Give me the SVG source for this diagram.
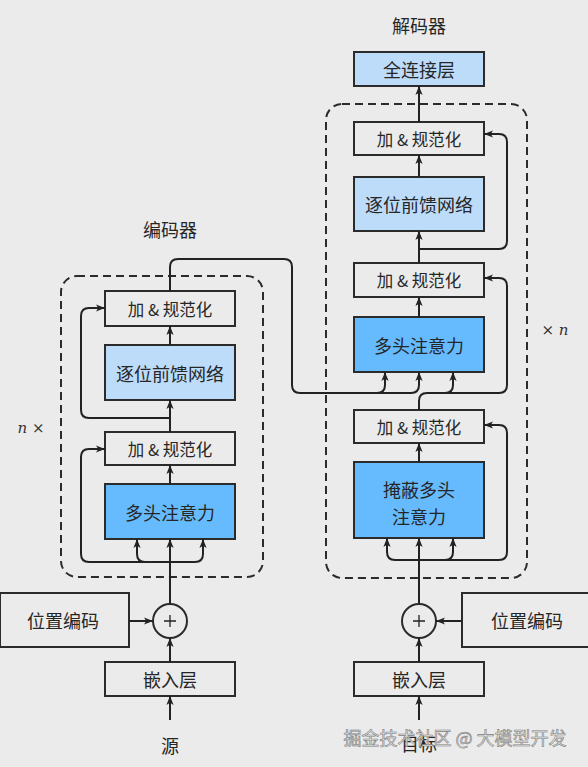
<svg xmlns="http://www.w3.org/2000/svg" width="588" height="767" viewBox="0 0 588 767">
<style>
  .bg{fill:#ebebeb}
  .box{stroke:#2b2b2b;stroke-width:2}
  .gray{fill:#ebebeb}
  .light{fill:#bddcfa}
  .blue{fill:#66bbff}
  .dash{fill:none;stroke:#2b2b2b;stroke-width:2;stroke-dasharray:8 5}
  .t{font-family:"Noto Sans CJK SC","Noto Sans",sans-serif;fill:#262626;text-anchor:middle;dominant-baseline:central}
  .s16{font-size:16.5px}
  .s17{font-size:18px}
  .it{font-family:"DejaVu Serif","Liberation Serif",serif;font-size:15px;fill:#333;text-anchor:middle;dominant-baseline:central}
  .c{fill:none;stroke:#222;stroke-width:2;stroke-linejoin:round}
  .a{marker-end:url(#ah)}
  .wm{font-family:"Noto Sans CJK SC",sans-serif;font-size:18px;fill:#e2e2e2;stroke:#808080;stroke-width:0.6;text-anchor:middle;dominant-baseline:central}
</style>
<defs>
  <marker id="ah" viewBox="0 0 10 8" refX="10" refY="4" markerWidth="9" markerHeight="7.5" markerUnits="userSpaceOnUse" orient="auto">
    <path d="M0,0 L10,4 L0,8 L2.5,4 z" fill="#222"/>
  </marker>
</defs>
<rect class="bg" x="0" y="0" width="588" height="767"/>

<!-- titles and labels -->
<text class="t s17" x="170" y="229">编码器</text>
<text class="t s17" x="419" y="25">解码器</text>
<text class="it" x="31" y="428"><tspan font-style="italic">n</tspan> ×</text>
<text class="it" x="555" y="330">× <tspan font-style="italic">n</tspan></text>

<!-- dashed groups -->
<g id="encoder-block">
  <rect class="dash" x="61" y="276" width="202" height="301" rx="16"/>
</g>
<g id="decoder-block">
  <rect class="dash" x="326" y="104" width="201" height="474" rx="16"/>
</g>

<!-- encoder nodes -->
<g id="enc-addnorm2"><rect class="box gray" x="105" y="291" width="130" height="35"/><text class="t s16" x="170" y="308.5">加 &amp; 规范化</text></g>
<g id="enc-ffn"><rect class="box light" x="105" y="345" width="130" height="55"/><text class="t s17" x="170" y="372.5">逐位前馈网络</text></g>
<g id="enc-addnorm1"><rect class="box gray" x="105" y="432" width="130" height="33"/><text class="t s16" x="170" y="448.5">加 &amp; 规范化</text></g>
<g id="enc-attn"><rect class="box blue" x="105" y="484" width="130" height="55"/><text class="t s17" x="170" y="511.5">多头注意力</text></g>
<g id="enc-posenc"><rect class="box gray" x="0" y="593" width="129" height="54"/><text class="t s17" x="63" y="620">位置编码</text></g>
<g id="enc-add"><circle class="box gray" cx="170" cy="621" r="17"/><path d="M164,621 H176 M170,615 V627" stroke="#222" stroke-width="1.3"/></g>
<g id="enc-embed"><rect class="box gray" x="105" y="662" width="130" height="34"/><text class="t s17" x="170" y="679">嵌入层</text></g>
<g id="enc-src"><text class="t s17" x="170" y="745">源</text></g>

<!-- decoder nodes -->
<g id="dec-fc"><rect class="box light" x="354" y="52" width="130" height="34"/><text class="t s17" x="419" y="69">全连接层</text></g>
<g id="dec-addnorm3"><rect class="box gray" x="354" y="122" width="130" height="33"/><text class="t s16" x="419" y="138.5">加 &amp; 规范化</text></g>
<g id="dec-ffn"><rect class="box light" x="354" y="177" width="130" height="54"/><text class="t s17" x="419" y="204">逐位前馈网络</text></g>
<g id="dec-addnorm2"><rect class="box gray" x="354" y="263" width="130" height="34"/><text class="t s16" x="419" y="280">加 &amp; 规范化</text></g>
<g id="dec-attn"><rect class="box blue" x="354" y="317" width="130" height="55"/><text class="t s17" x="419" y="344.5">多头注意力</text></g>
<g id="dec-addnorm1"><rect class="box gray" x="354" y="410" width="130" height="33"/><text class="t s16" x="419" y="426.5">加 &amp; 规范化</text></g>
<g id="dec-mattn"><rect class="box blue" x="354" y="462" width="130" height="76"/><text class="t s17" x="419" y="489">掩蔽多头</text><text class="t s17" x="419" y="516">注意力</text></g>
<g id="dec-posenc"><rect class="box gray" x="462" y="593" width="130" height="54"/><text class="t s17" x="527" y="620">位置编码</text></g>
<g id="dec-add"><circle class="box gray" cx="419" cy="621" r="17"/><path d="M413,621 H425 M419,615 V627" stroke="#222" stroke-width="1.3"/></g>
<g id="dec-embed"><rect class="box gray" x="354" y="662" width="130" height="34"/><text class="t s17" x="419" y="679">嵌入层</text></g>
<g id="dec-tgt"><text class="t s17" x="419" y="743">目标</text></g>

<!-- connectors -->
<g id="connectors">
  <!-- encoder -->
  <path class="c a" d="M170,720 V696"/>
  <path class="c a" d="M170,662 V638"/>
  <path class="c a" d="M129,621 H153"/>
  <path class="c a" d="M170,604 V539"/>
  <path class="c a" d="M170,562 H145 Q137,562 137,554 V539"/>
  <path class="c a" d="M170,562 H195 Q203,562 203,554 V539"/>
  <path class="c a" d="M145,562 H89 Q81,562 81,554 V457 Q81,449 89,449 H105"/>
  <path class="c a" d="M170,484 V465"/>
  <path class="c a" d="M170,432 V400"/>
  <path class="c a" d="M170,418 H89 Q81,418 81,410 V316 Q81,308 89,308 H105"/>
  <path class="c a" d="M170,345 V326"/>
  <!-- encoder to decoder -->
  <path class="c a" d="M170,291 V267 Q170,259 178,259 H284 Q292,259 292,267 V385 Q292,393 300,393 H377 Q385,393 385,385 V372"/>
  <path class="c a" d="M377,393 H411 Q419,393 419,385 V372"/>
  <!-- decoder -->
  <path class="c a" d="M419,720 V696"/>
  <path class="c a" d="M419,662 V638"/>
  <path class="c a" d="M462,621 H436"/>
  <path class="c a" d="M419,604 V538"/>
  <path class="c a" d="M419,560 H395 Q387,560 387,552 V538"/>
  <path class="c a" d="M419,560 H445 Q453,560 453,552 V538"/>
  <path class="c a" d="M445,560 H499 Q507,560 507,552 V433 Q507,425 499,425 H484"/>
  <path class="c a" d="M419,462 V443"/>
  <path class="c a" d="M419,410 V401 Q419,393 427,393 H445 Q453,393 453,385 V372"/>
  <path class="c a" d="M445,393 H499 Q507,393 507,385 V286 Q507,278 499,278 H484"/>
  <path class="c a" d="M419,317 V297"/>
  <path class="c a" d="M419,263 V231"/>
  <path class="c a" d="M419,249 H499 Q507,249 507,241 V142 Q507,134 499,134 H484"/>
  <path class="c a" d="M419,177 V155"/>
  <path class="c a" d="M419,122 V86"/>
</g>

<text class="wm" x="455" y="737">掘金技术社区 @ 大模型开发</text>
</svg>
